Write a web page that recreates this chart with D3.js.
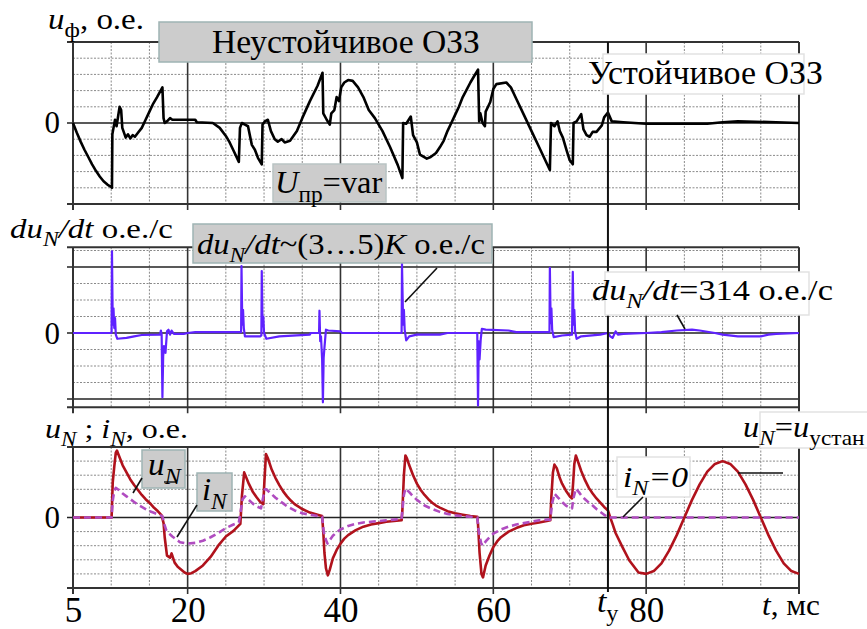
<!DOCTYPE html>
<html><head><meta charset="utf-8">
<script src="https://cdn.jsdelivr.net/npm/d3@7/dist/d3.min.js"></script>
<style>html,body{margin:0;padding:0;background:#fff} svg text{font-family:"Liberation Serif","DejaVu Serif",serif;}</style>
</head><body>
<svg id="c" width="867" height="629"></svg>
<script>
// ---------- DATA ----------
const phaseT = [5,5.5,6,6.5,7,7.5,8,8.5,9,9.5,10,10.1,10.15,10.3,10.5,10.7,10.9,11.1,11.3,11.45,11.6,11.9,12.2,12.5,12.8,13.1,13.5,14,14.5,15,15.5,16,16.7,16.85,17,17.3,17.7,18,20,21,21.2,23.3,24.2,25,25.5,26,26.7,26.85,27.1,27.5,27.9,28.4,28.8,29.2,29.7,29.8,30.1,30.5,30.9,31.4,31.8,32.3,32.7,33.4,34.3,35,36,37,37.65,37.75,38.2,38.6,38.8,39.2,39.5,39.8,40.1,40.5,41,41.6,42.3,43,43.7,44.5,45.5,46.5,47.5,48.1,48.2,48.6,49.2,49.5,50,50.4,51.3,51.8,52.5,53,53.5,54,54.5,55,55.5,56,56.5,57,57.5,58,58.15,58.3,58.6,58.9,59,59.4,59.6,60,60.4,61.7,62.3,63,64,65,66,67.4,67.55,68,68.4,68.7,69.1,69.6,70,70.4,70.5,70.9,71.5,71.8,72.2,72.6,73,73.5,74.2,74.5,75,75.5,77,80,85,88,90,92,97,100];
const phaseV = [0,-0.6,-1.15,-1.65,-2.1,-2.55,-2.95,-3.3,-3.6,-3.8,-3.95,-4.0,-0.7,-0.3,0.2,-0.2,0.4,1.0,0.8,-0.3,-0.5,-0.9,-0.7,-0.95,-0.75,-0.85,-0.6,-0.3,0.2,0.7,1.2,1.6,2.2,0.3,0.0,0.1,0.3,0.2,0.2,0.2,0.05,0.0,-0.3,-0.8,-1.2,-1.7,-2.4,-0.3,0.0,-0.1,-0.2,-1.35,-1.65,-2.15,-2.55,-0.1,0.1,0.2,-0.5,-1.0,-1.15,-1.0,-1.2,-1.1,-0.5,0.3,1.35,2.3,3.1,0.6,0.2,-0.1,0.6,0.8,1.6,1.35,2.2,2.5,2.65,2.6,2.2,1.6,0.8,0.3,-0.5,-1.5,-2.6,-3.4,0.0,-0.05,0.4,-0.75,-1.2,-1.95,-2.2,-2.1,-1.85,-1.5,-1.1,-0.5,0.0,0.5,1.0,1.6,2.05,2.5,2.9,3.3,0.1,0.6,0.0,-0.2,0.7,1.1,1.3,2.1,2.4,2.5,2.2,1.5,0.5,-0.5,-1.5,-2.9,0.0,-0.2,0.1,-0.5,-0.9,-1.7,-2.3,-2.55,0.0,0.1,0.55,-0.4,-0.75,-0.85,-0.55,-0.55,-0.15,0.35,0.65,0.1,0.05,-0.05,-0.05,-0.05,0.05,0.1,0.05,0.0];

const dudtT = [5,10.05,10.1,10.2,10.3,10.4,10.5,10.6,10.8,12,13,14,16.4,16.5,16.6,16.7,16.8,16.9,17.1,17.3,17.5,17.7,17.9,18.2,19.5,20,21,27,27.05,27.15,27.25,27.35,27.5,29.5,29.65,29.7,29.8,29.9,30,30.3,32,36,36.1,37.2,37.25,37.35,37.45,37.6,37.7,37.8,37.9,38.1,38.4,40,40.2,48,48.05,48.2,48.3,48.4,48.6,49,50,53,54,57.9,58,58.1,58.2,58.35,58.5,59,62,63,67.35,67.4,67.5,67.6,67.7,67.9,69,70.3,70.4,70.5,70.6,70.7,70.9,71.5,74,75,75.3,75.6,76,76.3,77,80,82,84,86,87,89,90,92,95,96,97,100];
const dudtV = [0,0,4.95,0.5,1.5,0.3,0.9,-0.1,-0.35,-0.3,-0.2,-0.12,-0.1,0.15,-0.1,-3.9,-1.4,-0.8,-1.2,0.1,0.2,-0.1,0.15,-0.05,-0.05,0,0.05,0.05,4.05,0.5,1.4,0.3,-0.2,-0.2,-0.15,3.75,0.4,1.0,0,-0.35,-0.2,-0.1,0,0,1.35,-0.5,-0.2,-1.6,-4.2,-1.5,-0.9,0.2,0.15,0.1,0,0,4.2,0.5,1.4,0.2,-0.45,-0.2,-0.1,-0.1,0,0,-4.4,-0.5,-1.6,-0.4,0.25,0.2,0.15,0.05,0.05,3.95,0.6,1.5,0.2,-0.25,-0.15,-0.1,3.7,0.5,1.4,0.1,-0.35,-0.2,-0.1,0,-0.2,-0.3,0.1,-0.1,-0.05,0,0.05,0.15,0.2,0.15,0,-0.1,-0.2,-0.2,-0.1,-0.05,0];

const uNT = [5,10.05,10.2,10.4,10.6,10.75,11,11.5,12,12.5,13,13.5,14,14.5,15,15.5,16,16.6,16.85,17.0,17.3,17.7,17.9,18.3,18.7,19.6,20,20.5,21,22,23,24,25,26,26.9,27.1,27.4,28,28.5,29,29.5,29.9,30.05,30.25,30.5,31,31.5,32,32.5,33,33.5,34,35,36,37,37.6,37.75,37.9,38.1,38.35,38.6,39,39.5,40,40.5,41,42,43,44,45,46,47,48,48.1,48.3,48.5,48.7,49,49.5,50,50.5,51,51.5,52,52.5,53,54,55,56,57,57.9,58.0,58.2,58.45,58.65,59,59.5,60,60.5,61,62,63,64,65,66,67,67.45,67.6,67.8,68,68.3,68.7,69,69.5,70,70.3,70.45,70.6,70.8,71,71.5,72,72.5,73,73.5,74,74.5,75,75.3,75.6,76,76.9,77.8,79,80,81,82,83,84,85,86,87,88,89,90,91,92,93,94,95,96,97,98,99,100];
const uNV = [0,0,2.5,3.6,4.6,4.75,4.4,3.7,3.2,2.7,2.3,1.95,1.6,1.3,1.05,0.75,0.5,0.15,-0.4,-1.4,-2.7,-2.85,-2.55,-3.2,-3.5,-3.9,-4.0,-3.95,-3.8,-3.4,-2.8,-2.0,-1.35,-0.95,-0.45,1.5,3.2,2.4,1.85,1.45,1.1,0.95,2.6,4.5,4.2,3.4,2.8,2.3,1.85,1.5,1.2,0.95,0.6,0.35,0.2,0.1,-1.0,-2.5,-3.6,-4.1,-3.7,-2.9,-2.3,-1.85,-1.5,-1.25,-0.9,-0.65,-0.5,-0.4,-0.3,-0.25,-0.2,0.5,3.0,4.4,4.2,3.7,3.0,2.4,1.95,1.6,1.3,1.05,0.85,0.7,0.45,0.3,0.2,0.1,0.05,-0.5,-2.5,-4.0,-4.25,-3.4,-2.7,-2.1,-1.7,-1.4,-1.0,-0.75,-0.55,-0.45,-0.35,-0.25,-0.2,1.5,3.2,3.75,3.5,2.8,2.4,1.9,1.5,1.35,2.5,3.8,4.4,4.1,3.3,2.65,2.1,1.7,1.35,1.05,0.75,0.5,0.0,-0.45,-1.1,-2.1,-3.05,-3.9,-4.0,-3.8,-3.25,-2.35,-1.25,0.0,1.25,2.35,3.25,3.8,4.0,3.8,3.25,2.35,1.25,0.0,-1.25,-2.35,-3.25,-3.8,-4.0];

const iNT = [5,10.05,10.2,10.4,10.6,11,11.5,12,12.5,13,13.5,14,14.5,15,15.5,16,16.7,16.9,17.2,17.6,18,19,20,21,22,23,24,25,26,26.7,26.9,27.2,27.5,28,28.5,29,29.6,29.8,30.1,30.3,31,31.5,32,32.5,33,33.5,34,35,36,37,37.6,37.8,38.1,38.3,38.6,39,39.5,40,41,42,43,44,45,46,47,48,48.1,48.3,48.5,49,49.5,50,50.5,51,52,53,54,55,56,57,57.9,58.1,58.4,58.6,59,59.5,60,61,62,63,64,65,66,67,67.45,67.7,68,68.5,69,69.5,70,70.3,70.5,70.8,71.2,71.6,72,72.5,73,73.5,74,74.5,75,100];
const iNV = [0,0,1.2,1.9,2.1,1.95,1.7,1.5,1.3,1.1,0.9,0.75,0.6,0.45,0.35,0.25,0.1,-0.4,-0.9,-1.15,-1.35,-1.75,-1.85,-1.8,-1.65,-1.4,-1.1,-0.75,-0.5,-0.35,0.3,1.3,1.5,1.25,1.0,0.8,0.65,1.2,2.0,2.0,1.65,1.4,1.2,1.0,0.8,0.65,0.5,0.3,0.2,0.1,0.05,-1.0,-1.6,-1.85,-1.6,-1.3,-1.05,-0.85,-0.6,-0.45,-0.35,-0.3,-0.25,-0.2,-0.15,-0.1,0.5,1.6,2.05,1.8,1.5,1.25,1.05,0.85,0.6,0.4,0.25,0.15,0.1,0.05,0.0,-1.0,-1.8,-2.0,-1.7,-1.4,-1.15,-0.85,-0.65,-0.5,-0.4,-0.3,-0.2,-0.15,-0.15,1.0,1.7,1.4,1.1,0.85,0.7,0.65,1.4,2.05,1.8,1.5,1.3,1.05,0.85,0.6,0.4,0.2,0.0,0.0];

const xTickValues = [5,20,40,60,80];
const xTickLabels = ["5","20","40","60","80"];
const minorTicks = [10,15,25,30,35,45,50,55,65,70,85,90,95];
const majorTicks = [20,40,60,80];
const tSettle = 75;

// ---------- SETUP ----------
const SERIF = '"Liberation Serif","DejaVu Serif",serif';
const svg = d3.select("#c");
const x = d3.scaleLinear().domain([5,100]).range([73,799]);
const y1 = d3.scaleLinear().domain([-5,5]).range([204,42]);
const y2 = d3.scaleLinear().domain([-4.5,5.2]).range([407.25,247.2]);
const y3 = d3.scaleLinear().domain([-5,5]).range([588,447]);

const panels = [
  {y:y1, top:5, bot:-5, dotted:[-4,-3,-2,-1,1,2,3,4], solid:[0]},
  {y:y2, top:5.2, bot:-4.5, dotted:[-3,-2,-1,1,2,3,5], solid:[-4,0,4]},
  {y:y3, top:5, bot:-5, dotted:[-4,-3,-2,-1,1,2,3,4], solid:[0]}
];

const grid = svg.append("g");
panels.forEach((p,i) => {
  const yt = p.y(p.top), yb = p.y(p.bot);
  grid.selectAll(null).data(p.dotted).enter().append("line")
    .attr("x1", x(5)).attr("x2", x(100)).attr("y1", d=>p.y(d)).attr("y2", d=>p.y(d))
    .attr("stroke","#8a8a8a").attr("stroke-width",1).attr("stroke-dasharray","2,1.5");
  grid.selectAll(null).data(minorTicks).enter().append("line")
    .attr("x1", d=>x(d)).attr("x2", d=>x(d)).attr("y1", yt).attr("y2", yb)
    .attr("stroke","#8a8a8a").attr("stroke-width",1).attr("stroke-dasharray","2,1.5");
  grid.selectAll(null).data(majorTicks).enter().append("line")
    .attr("x1", d=>x(d)).attr("x2", d=>x(d)).attr("y1", yt).attr("y2", yb + 6)
    .attr("stroke","#333").attr("stroke-width",1.6);
  grid.selectAll(null).data(p.solid).enter().append("line")
    .attr("x1", x(5)-6).attr("x2", x(100)).attr("y1", d=>p.y(d)).attr("y2", d=>p.y(d))
    .attr("stroke","#222").attr("stroke-width",1.6);
  grid.selectAll(null).data([p.top,p.bot]).enter().append("line")
    .attr("x1", x(5)-6).attr("x2", x(100)).attr("y1", d=>p.y(d)).attr("y2", d=>p.y(d))
    .attr("stroke","#333").attr("stroke-width",2);
  grid.selectAll(null).data([5,100]).enter().append("line")
    .attr("x1", d=>x(d)).attr("x2", d=>x(d)).attr("y1", yt).attr("y2", yb + 6)
    .attr("stroke","#333").attr("stroke-width",2);
});

// ---------- SERIES ----------
const zip = (T,V) => T.map((t,i)=>[t,V[i]]);
function drawLine(T,V,yS,color,w,dash){
  svg.append("path").datum(zip(T,V))
    .attr("d", d3.line().x(d=>x(d[0])).y(d=>yS(d[1])))
    .attr("fill","none").attr("stroke",color).attr("stroke-width",w)
    .attr("stroke-linejoin","round").attr("stroke-dasharray",dash||null);
}
drawLine(phaseT, phaseV, y1, "#000", 2.6);
drawLine(dudtT, dudtV, y2, "#5f22ff", 2.2);
drawLine(uNT, uNV, y3, "#b0121c", 2.6);
drawLine(iNT, iNV, y3, "#b04cc0", 2.6, "7,4");

// t_y line
svg.append("line").attr("x1",x(tSettle)).attr("x2",x(tSettle)).attr("y1",42).attr("y2",592)
  .attr("stroke","#111").attr("stroke-width",2);

// ---------- LABELS ----------
function label(segs, o){
  const g = svg.append("g");
  const t = g.append("text").style("font-family",SERIF).attr("font-size",o.fs).attr("fill","#000");
  let shifted = 0;
  segs.forEach(s=>{
    const sp = t.append("tspan").text(s.t);
    if (s.i) sp.attr("font-style","italic");
    const want = s.sub ? o.fs*0.28 : 0;
    if (s.sub) sp.attr("font-size", o.fs*0.72);
    if (want !== shifted){ sp.attr("dy", want-shifted); shifted = want; }
  });
  const bb = t.node().getBBox();
  const sx = o.w ? o.w/bb.width : 1;
  g.attr("transform",`translate(${o.x - bb.x*sx},${o.y}) scale(${sx},1)`);
  return g;
}
function box(x0,y0,w,h,fill,stroke){
  svg.append("rect").attr("x",x0).attr("y",y0).attr("width",w).attr("height",h)
    .attr("fill",fill).attr("stroke",stroke).attr("stroke-width",1.5);
}
function leader(a,b,c,d){
  svg.append("line").attr("x1",a).attr("y1",b).attr("x2",c).attr("y2",d)
    .attr("stroke","#111").attr("stroke-width",1.6);
}

// top panel
label([{t:"u",i:1},{t:"ф",sub:1},{t:", о.е."}], {x:48,y:29,fs:29,w:96});
box(159,22,373,40,"#cccccc","#9fb4b4");
label([{t:"Неустойчивое ОЗЗ"}], {x:212,y:53,fs:33,w:268});
box(603,54,201,40,"#ffffff","#e2e2e2");
label([{t:"Устойчивое ОЗЗ"}], {x:588,y:84,fs:33,w:235});
box(273,164,113,38,"#cccccc","#b9c4c4");
label([{t:"U",i:1},{t:"пр",sub:1},{t:"=var"}], {x:275,y:193,fs:31,w:108});

// middle panel
label([{t:"du",i:1},{t:"N",i:1,sub:1},{t:"/dt",i:1},{t:" о.е./с"}], {x:10,y:238,fs:28,w:163});
box(193,224,299,39,"#cccccc","#9fb4b4");
label([{t:"du",i:1},{t:"N",i:1,sub:1},{t:"/dt",i:1},{t:"~(3…5)"},{t:"K",i:1},{t:" о.е./с"}], {x:197,y:254,fs:30,w:288});
leader(437,268,405,302);
box(605,272,204,43,"#ffffff","#e2e2e2");
label([{t:"du",i:1},{t:"N",i:1,sub:1},{t:"/dt",i:1},{t:"=314 о.е./с"}], {x:592,y:300,fs:30,w:241});
leader(677,315,685,329);

// bottom panel
label([{t:"u",i:1},{t:"N",i:1,sub:1},{t:" ; "},{t:"i",i:1},{t:"N",i:1,sub:1},{t:", о.е."}], {x:45,y:438,fs:28,w:143});
box(142,450,43,38,"#cccccc","#9fb4b4");
label([{t:"u",i:1},{t:"N",i:1,sub:1}], {x:148,y:475,fs:31,w:34});
svg.append("line").attr("x1",164).attr("x2",177).attr("y1",482).attr("y2",482).attr("stroke","#000").attr("stroke-width",1.3);
leader(142,478,133,493);
box(197,473,35,38,"#cccccc","#9fb4b4");
label([{t:"i",i:1},{t:"N",i:1,sub:1}], {x:202,y:500,fs:31,w:26});
leader(197,505,177,537);
box(617,457,73,40,"#ffffff","#e2e2e2");
label([{t:"i",i:1},{t:"N",i:1,sub:1},{t:"=0",i:1}], {x:623,y:487,fs:30,w:65});
leader(643,497,623,517);
box(760,412,120,36,"#ffffff","#e2e2e2");
label([{t:"u",i:1},{t:"N",i:1,sub:1},{t:"="},{t:"u",i:1},{t:"устан",sub:1}], {x:743,y:437,fs:30,w:122});
leader(738,473,783,473);

// zero labels
[133,344,528].forEach(b=>{
  svg.append("text").attr("x",60).attr("y",b).attr("text-anchor","end")
    .style("font-family",SERIF).attr("font-size",31).text("0");
});

// x axis labels
const ax = d3.axisBottom(x).tickValues(xTickValues).tickFormat((d,i)=>xTickLabels[i]).tickSize(0);
const axG = svg.append("g").attr("transform","translate(0,622)").call(ax);
axG.attr("font-family",null);
axG.select(".domain").remove();
axG.selectAll("text").attr("y",0).attr("dy",0).style("font-family",SERIF).attr("font-size",35).attr("fill","#000");
label([{t:"t",i:1},{t:"у",sub:1}], {x:597,y:612,fs:32,w:22});
label([{t:"t",i:1},{t:", мс"}], {x:762,y:615,fs:30,w:58});
</script>
</body></html>
